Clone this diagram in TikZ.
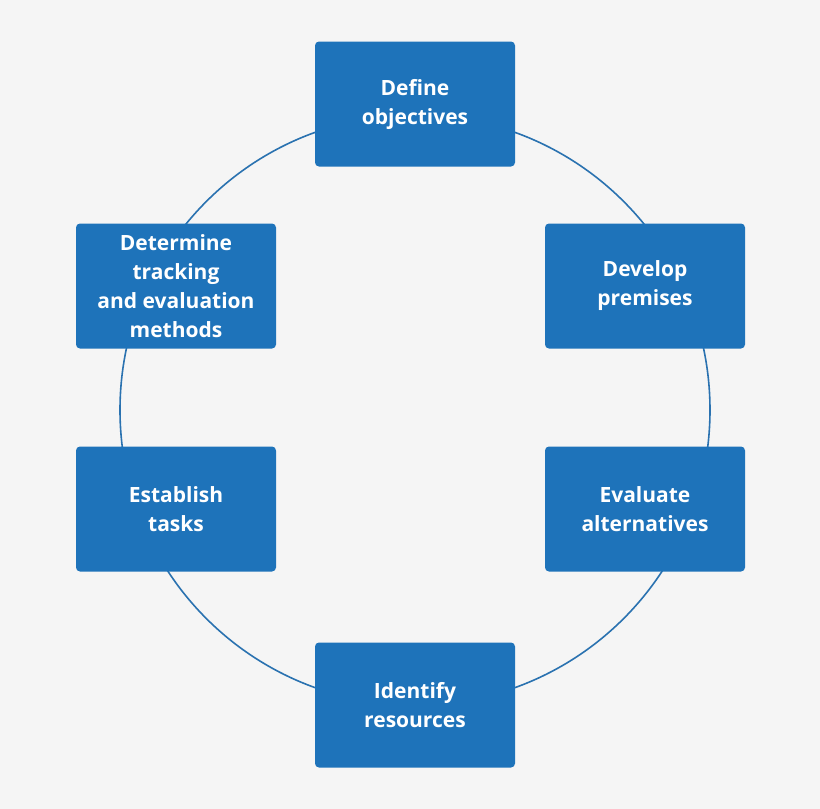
\documentclass[tikz,border=0pt]{standalone}
\usepackage{fontspec}
\setmainfont{Open Sans}
\definecolor{bg}{HTML}{F5F5F5}
\definecolor{boxc}{HTML}{1E73BA}
\definecolor{ringc}{HTML}{2A72B0}
\begin{document}
\begin{tikzpicture}[x=1pt,y=-1pt,
  stepbox/.style={draw=none,fill=boxc,rounded corners=4pt,minimum width=200pt,minimum height=125pt,
    text=white,align=center,font=\bfseries\fontsize{21}{29}\selectfont}]
\fill[bg] (0,0) rectangle (820,809);
\useasboundingbox (0,0) rectangle (820,809);
\draw[ringc,line width=1.6pt] (415,410) circle[radius=295];
\node[stepbox] (a) at (415,104) {Define\\objectives};
\node[stepbox] (b) at (645,286) {Develop\\premises};
\node[stepbox] (c) at (645,509) {Evaluate\\alternatives};
\node[stepbox] (d) at (415,705) {Identify\\resources};
\node[stepbox] (e) at (176,509) {Establish\\tasks};
\node[stepbox] (f) at (176,286) {Determine\\tracking\\and evaluation\\methods};
\end{tikzpicture}
\end{document}
